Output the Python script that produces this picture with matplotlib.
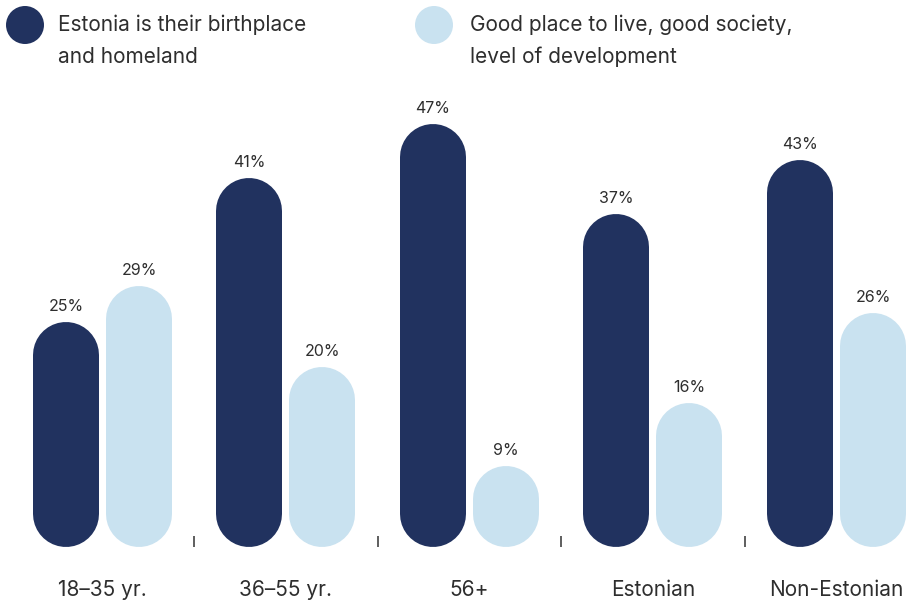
import matplotlib.pyplot as plt
import matplotlib.patches as mpatches

categories = ['18–35 yr.', '36–55 yr.', '56+', 'Estonian', 'Non-Estonian']
birthplace = [25, 41, 47, 37, 43]
good_place = [29, 20, 9, 16, 26]
series_names = [['Estonia is their birthplace', 'and homeland'],
                ['Good place to live, good society,', 'level of development']]

DARK = '#21325f'
LIGHT = '#c9e2f0'
TEXT = '#2e2e2e'

plt.rcParams['font.family'] = ['Inter', 'DejaVu Sans']

W, H, DPI = 912, 603, 100
fig = plt.figure(figsize=(W / DPI, H / DPI), dpi=DPI)

# axes in pixel layout: baseline at y=547, 9 px per percent
ax = fig.add_axes([0, (H - 547) / H, 1, 450 / H])
group_px = 183.5
x0_px = 102.5
ax.set_xlim(-x0_px / group_px, (W - x0_px) / group_px)
ax.set_ylim(0, 50)

bar_px = 66
offset = 36.5 / group_px
lw_pt = bar_px * 72 / DPI
cap = (bar_px / 2) * 50 / 450   # round cap length in data units


def pill(x, v, color):
    # thick line with round caps -> pill shaped bar from 0 to v
    ax.vlines(x, cap, v - cap, colors=color, linewidth=lw_pt,
              capstyle='round')
    ax.annotate(f'{v}%', (x, v), xytext=(0, 6), textcoords='offset points',
                ha='center', va='bottom', fontsize=11.5, color=TEXT)


for i in range(len(categories)):
    pill(i - offset, birthplace[i], DARK)
    pill(i + offset, good_place[i], LIGHT)

for s in ax.spines.values():
    s.set_visible(False)
ax.set_yticks([])
ax.set_xticks(range(len(categories)))
ax.set_xticklabels(categories, fontsize=15, color=TEXT)
ax.tick_params(axis='x', which='major', length=0, pad=24)
ax.set_xticks([i + 0.5 for i in range(len(categories) - 1)], minor=True)
ax.tick_params(axis='x', which='minor', direction='in', length=8,
               width=1.1, color='#333333')

# legend
legend_pos = [(25, 58), (434, 470)]
for (cx, tx), lines, col in zip(legend_pos, series_names, [DARK, LIGHT]):
    fig.add_artist(mpatches.Circle((cx / DPI, (H - 25) / DPI), 19 / DPI,
                                   transform=fig.dpi_scale_trans, fc=col, ec='none'))
    for k, line in enumerate(lines):
        fig.text(tx / W, 1 - (25 + 32 * k) / H, line, ha='left', va='center',
                 fontsize=15, color=TEXT)

fig.savefig('out.png', dpi=DPI)
